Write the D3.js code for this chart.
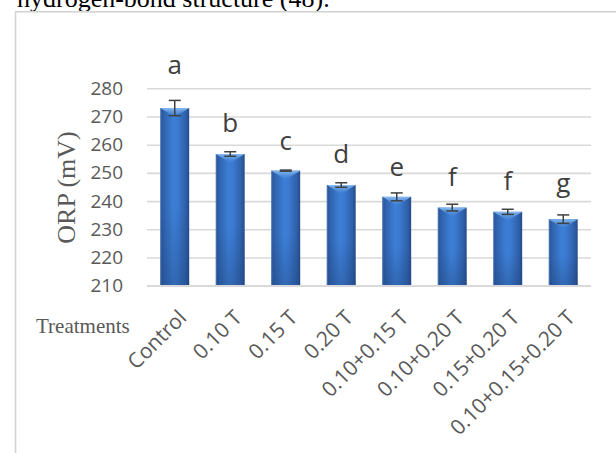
<!DOCTYPE html>
<html>
<head>
<meta charset="utf-8">
<script src="https://cdn.jsdelivr.net/npm/d3@7"></script>
<style>
  html, body { margin: 0; padding: 0; background: #fff; }
  svg { display: block; }
</style>
</head>
<body>
<svg id="chart" width="616" height="453"></svg>
<script>
// ---- data ----
const categories = ["Control", "0.10 T", "0.15 T", "0.20 T", "0.10+0.15 T", "0.10+0.20 T", "0.15+0.20 T", "0.10+0.15+0.20 T"];
const orpValues = [273.0, 256.7, 250.8, 245.7, 241.5, 237.7, 236.2, 233.6];
const orpErrors = [2.7, 0.8, 0.2, 0.8, 1.4, 1.2, 0.9, 1.5];
const groupLetters = ["a", "b", "c", "d", "e", "f", "f", "g"];
const letterAt = [285.0, 264.5, 258.1, 253.4, 248.9, 245.4, 244.0, 243.3];
const yTicks = [210, 220, 230, 240, 250, 260, 270, 280];

// ---- layout ----
const svg = d3.select("#chart");
const plot = { left: 147, right: 591, top: 88.3, bottom: 285.7 };

const x = d3.scaleBand().domain(categories).range([plot.left, plot.right]).paddingInner(0.48).paddingOuter(0.24);
const y = d3.scaleLinear().domain([210, 280]).range([plot.bottom, plot.top]);

// clipped caption line above the frame
svg.append("text")
  .attr("x", 17).attr("y", 7)
  .attr("font-family", "'Liberation Serif', 'Times New Roman', serif")
  .attr("font-size", 26).attr("fill", "#000")
  .text("hydrogen-bond structure (48).");

// chart frame
svg.append("rect")
  .attr("x", 15.5).attr("y", 11.8).attr("width", 640).attr("height", 500)
  .attr("fill", "#fff").attr("stroke", "#d4d4d4").attr("stroke-width", 1.6);

// gradients
const defs = svg.append("defs");
const g1 = defs.append("linearGradient").attr("id", "barGrad").attr("x1", "0").attr("x2", "1").attr("y1", "0").attr("y2", "0");
[["0%", "#27508f"], ["12%", "#3063ae"], ["45%", "#3d7fd6"], ["60%", "#3b7ad0"], ["88%", "#2f60aa"], ["100%", "#244b88"]]
  .forEach(([o, c]) => g1.append("stop").attr("offset", o).attr("stop-color", c));
const g2 = defs.append("linearGradient").attr("id", "topGrad").attr("x1", "0").attr("x2", "0").attr("y1", "0").attr("y2", "1");
g2.append("stop").attr("offset", "0%").attr("stop-color", "#8cc0f5").attr("stop-opacity", 0.95);
g2.append("stop").attr("offset", "100%").attr("stop-color", "#5f9be6").attr("stop-opacity", 0);
const g3 = defs.append("linearGradient").attr("id", "botGrad").attr("x1", "0").attr("x2", "0").attr("y1", "0").attr("y2", "1");
g3.append("stop").attr("offset", "0%").attr("stop-color", "#1d3f75").attr("stop-opacity", 0);
g3.append("stop").attr("offset", "100%").attr("stop-color", "#1d3f75").attr("stop-opacity", 0.35);

// gridlines
const yAxis = d3.axisLeft(y).tickValues(yTicks).tickSize(-(plot.right - plot.left)).tickPadding(24).tickFormat(d3.format("d"));
const ga = svg.append("g").attr("transform", `translate(${plot.left},0)`).call(yAxis);
ga.select(".domain").remove();
ga.selectAll(".tick line").attr("stroke", "#d9d9d9").attr("stroke-width", 1.6);
ga.selectAll(".tick text")
  .attr("font-family", "'Open Sans', sans-serif").attr("font-size", 19).attr("fill", "#595959");

// bars
const bars = svg.append("g");
categories.forEach((c, i) => {
  const bx = x(c), bw = x.bandwidth(), top = y(orpValues[i]), h = y(210) - top;
  bars.append("rect").attr("x", bx).attr("y", top).attr("width", bw).attr("height", h).attr("fill", "url(#barGrad)");
  bars.append("rect").attr("x", bx).attr("y", top + h * 0.55).attr("width", bw).attr("height", h * 0.45).attr("fill", "url(#botGrad)");
  bars.append("path")
    .attr("d", `M${bx},${top} L${bx + bw},${top} L${bx + bw * 0.5},${top + 9} Z`)
    .attr("fill", "url(#topGrad)");
  bars.append("line").attr("x1", bx + 0.5).attr("x2", bx + 0.5).attr("y1", top).attr("y2", top + h)
    .attr("stroke", "#5d8fd0").attr("stroke-width", 1).attr("opacity", 0.6);
});

// baseline over bars
svg.append("line").attr("x1", plot.left).attr("x2", plot.right).attr("y1", y(210)).attr("y2", y(210))
  .attr("stroke", "#d9d9d9").attr("stroke-width", 1.6);

// error bars
const eb = svg.append("g").attr("stroke", "#404040").attr("stroke-width", 1.5);
categories.forEach((c, i) => {
  const cx = x(c) + x.bandwidth() / 2;
  const y1 = y(orpValues[i] + orpErrors[i]), y2 = y(orpValues[i] - orpErrors[i]);
  eb.append("line").attr("x1", cx).attr("x2", cx).attr("y1", y1).attr("y2", y2);
  eb.append("line").attr("x1", cx - 6).attr("x2", cx + 6).attr("y1", y1).attr("y2", y1);
  eb.append("line").attr("x1", cx - 6).attr("x2", cx + 6).attr("y1", y2).attr("y2", y2);
});

// significance letters
svg.append("g").selectAll("text").data(categories).join("text")
  .attr("x", d => x(d) + x.bandwidth() / 2)
  .attr("y", (d, i) => y(letterAt[i]))
  .attr("text-anchor", "middle")
  .attr("font-family", "'Open Sans', sans-serif").attr("font-size", 26).attr("fill", "#404040")
  .text((d, i) => groupLetters[i]);

// x labels
svg.append("g").selectAll("text").data(categories).join("text")
  .attr("transform", d => `translate(${x(d) + x.bandwidth() / 2 + 13},319) rotate(-45)`)
  .attr("text-anchor", "end")
  .attr("font-family", "'Open Sans', sans-serif").attr("font-size", 21).attr("fill", "#595959")
  .text(d => d);

// axis titles
svg.append("text")
  .attr("transform", "translate(75,187.5) rotate(-90)")
  .attr("text-anchor", "middle")
  .attr("font-family", "'Liberation Serif', 'Times New Roman', serif")
  .attr("font-size", 26).attr("fill", "#595959")
  .text("ORP (mV)");

svg.append("text")
  .attr("x", 36).attr("y", 333)
  .attr("font-family", "'Liberation Serif', 'Times New Roman', serif")
  .attr("font-size", 21).attr("fill", "#595959")
  .text("Treatments");
</script>
</body>
</html>
